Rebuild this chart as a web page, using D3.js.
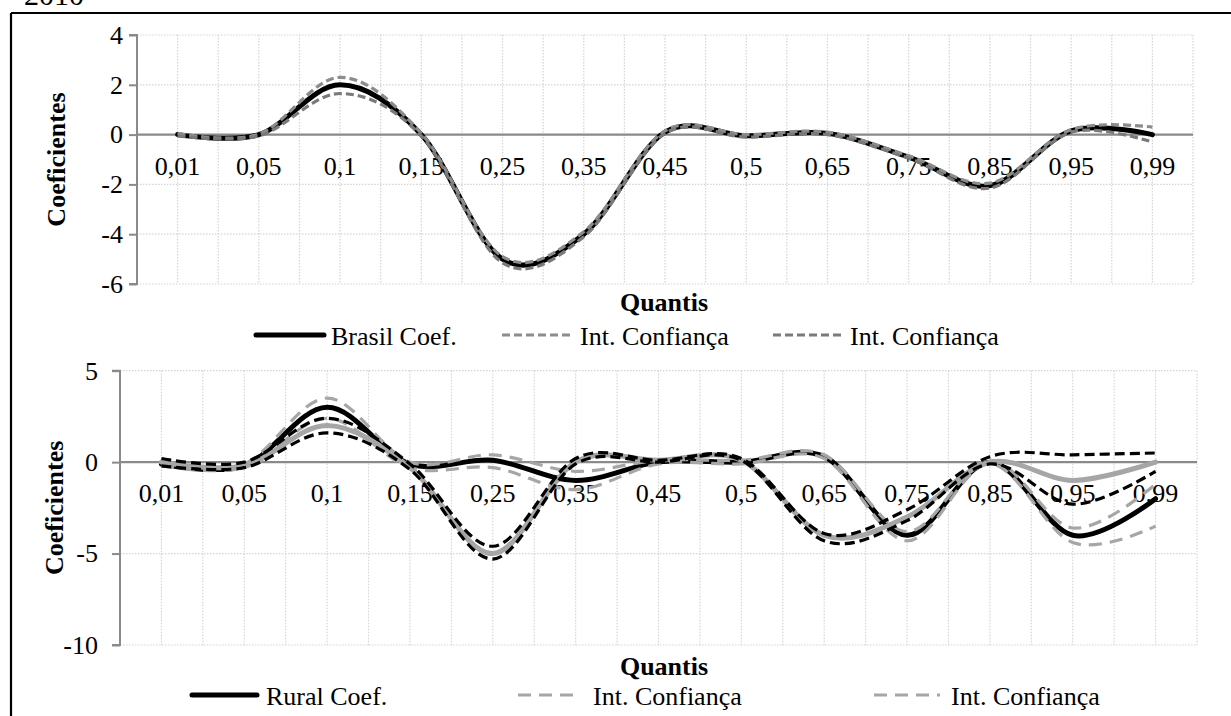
<!DOCTYPE html>
<html>
<head>
<meta charset="utf-8">
<script src="https://cdn.jsdelivr.net/npm/d3@7/dist/d3.min.js"></script>
<style>
  html, body { margin: 0; padding: 0; background: #fff; }
  svg { display: block; font-family: "Liberation Serif", "Times New Roman", serif; }
</style>
</head>
<body>
<svg id="chart" width="1231" height="716"></svg>
<script>
// Quantile labels shared by both panels
const quantis = ["0,01","0,05","0,1","0,15","0,25","0,35","0,45","0,5","0,65","0,75","0,85","0,95","0,99"];

// Brasil: coefficient and confidence bounds
const brasilCoef  = [0.00, 0.00, 2.00, 0.00, -5.00, -4.00, 0.10, -0.05, 0.05, -0.90, -2.05, 0.15, 0.00];
const brasilIcSup = [0.05, 0.02, 2.30, 0.05, -4.90, -3.90, 0.15,  0.00, 0.10, -0.85, -1.95, 0.20, 0.30];
const brasilIcInf = [-0.05,-0.05,1.65,-0.05, -5.15, -4.10, 0.05, -0.10, 0.00, -0.95, -2.15, 0.10, -0.30];

// Rural: coefficient and confidence bounds
const ruralCoef  = [-0.10, -0.20, 3.00, -0.10, 0.10, -1.00, 0.00, 0.00, 0.30, -4.00, 0.00, -4.00, -2.00];
const ruralIcSup = [0.00, -0.10, 3.50, 0.00, 0.40, -0.50, 0.10, 0.10, 0.40, -3.80, 0.10, -3.60, -1.20];
const ruralIcInf = [-0.20, -0.30, 2.40, -0.30, -0.30, -1.50, -0.10, -0.10, 0.20, -4.30, -0.10, -4.40, -3.50];

// Urbano: coefficient and confidence bounds
const urbanoCoef  = [0.00, -0.20, 2.00, -0.30, -5.00, 0.00, 0.10, 0.10, -4.00, -3.00, 0.00, -1.00, 0.00];
const urbanoIcSup = [0.20, 0.00, 2.40, -0.10, -4.60, 0.20, 0.10, 0.20, -3.90, -2.60, 0.30, 0.40, 0.50];
const urbanoIcInf = [-0.20, -0.30, 1.60, -0.40, -5.30, -0.10, 0.00, 0.10, -4.30, -3.20, -0.10, -2.30, -0.50];

// Axis tick values
const topTicks = [4, 2, 0, -2, -4, -6];
const bottomTicks = [5, 0, -5, -10];

const FONT = 26;
const svg = d3.select("#chart");

// Outer frame (top and left rules) and the year heading above it
svg.append("line").attr("x1", 11).attr("x2", 1231).attr("y1", 13).attr("y2", 13)
  .attr("stroke", "#000").attr("stroke-width", 2);
svg.append("line").attr("x1", 11).attr("x2", 11).attr("y1", 13).attr("y2", 716)
  .attr("stroke", "#000").attr("stroke-width", 2.2);
svg.append("text").attr("x", 24).attr("y", 5).attr("font-size", 30).text("2010");

function panel(cfg) {
  const x = d3.scaleBand().domain(quantis).range([cfg.left, cfg.right]);
  const y = d3.scaleLinear().domain(cfg.domain).range([cfg.bottom, cfg.top]);
  const g = svg.append("g");
  const half = x.bandwidth() / 2;

  // dotted vertical gridlines at band edges and band centres
  const vx = [];
  quantis.forEach(q => { vx.push(x(q)); vx.push(x(q) + half); });
  vx.push(cfg.right);
  g.selectAll(".vg").data(vx.slice(1)).join("line")
    .attr("x1", d => d).attr("x2", d => d)
    .attr("y1", y(cfg.domain[1])).attr("y2", y(cfg.domain[0]))
    .attr("stroke", "#d4d4d4").attr("stroke-width", 1.2).attr("stroke-dasharray", "1.5,1.5");
  // dotted horizontal gridlines
  g.selectAll(".hg").data(cfg.ticks).join("line")
    .attr("x1", cfg.left).attr("x2", cfg.right)
    .attr("y1", d => y(d)).attr("y2", d => y(d))
    .attr("stroke", "#d4d4d4").attr("stroke-width", 1.2).attr("stroke-dasharray", "1.5,1.5");

  // vertical axis with outside ticks
  const ya = d3.axisLeft(y).tickValues(cfg.ticks).tickSize(8).tickPadding(cfg.tickPad)
    .tickFormat(d => d3.format("d")(d).replace("−", "-"));
  const yg = g.append("g").attr("transform", `translate(${cfg.left},0)`).call(ya)
    .attr("font-family", null).attr("font-size", null);
  yg.select(".domain").attr("stroke", "#8a8a8a").attr("stroke-width", 2)
    .attr("d", `M-8,${y(cfg.domain[1])}H0V${y(cfg.domain[0])}H-8`);
  yg.selectAll(".tick line").attr("stroke", "#8a8a8a").attr("stroke-width", 2);
  yg.selectAll(".tick text").attr("font-size", FONT).attr("fill", "#000");

  // horizontal axis line at zero
  g.append("line").attr("x1", cfg.left).attr("x2", cfg.right)
    .attr("y1", y(0)).attr("y2", y(0))
    .attr("stroke", "#8a8a8a").attr("stroke-width", 2.2);

  // category labels below the zero line
  g.selectAll(".xl").data(quantis).join("text")
    .attr("x", d => x(d) + half).attr("y", y(0) + 40)
    .attr("text-anchor", "middle").attr("font-size", FONT).text(d => d);

  // series lines
  const line = d3.line()
    .x((d, i) => x(quantis[i]) + half)
    .y(d => y(d))
    .curve(d3.curveCatmullRom.alpha(0));
  cfg.series.forEach(s => {
    g.append("path").datum(s.values).attr("d", line)
      .attr("fill", "none").attr("stroke", s.color).attr("stroke-width", s.width)
      .attr("stroke-dasharray", s.dash || null)
      .attr("stroke-linecap", s.dash ? "butt" : "round")
      .attr("stroke-linejoin", "round");
  });

  // axis titles
  g.append("text").attr("transform", `translate(${cfg.ytitleX},${(y(cfg.domain[0]) + y(cfg.domain[1])) / 2}) rotate(-90)`)
    .attr("text-anchor", "middle").attr("font-weight", "bold").attr("font-size", FONT).text("Coeficientes");
  g.append("text").attr("x", cfg.xtitleX).attr("y", cfg.xtitleY)
    .attr("text-anchor", "middle").attr("font-weight", "bold").attr("font-size", FONT).text("Quantis");

  // legend
  cfg.legend.forEach(l => {
    g.append("line").attr("x1", l.x1).attr("x2", l.x2).attr("y1", cfg.legendY - 10).attr("y2", cfg.legendY - 10)
      .attr("stroke", l.color).attr("stroke-width", l.width)
      .attr("stroke-dasharray", l.dash || null)
      .attr("stroke-linecap", l.dash ? "butt" : "round");
    g.append("text").attr("x", l.tx).attr("y", cfg.legendY).attr("font-size", FONT).text(l.label);
  });
}

panel({
  left: 137, right: 1193, top: 35, bottom: 284, domain: [-6, 4], ticks: topTicks, tickPad: 6,
  ytitleX: 65, xtitleX: 664, xtitleY: 311, legendY: 345,
  series: [
    { values: brasilCoef, color: "#000", width: 5 },
    { values: brasilIcSup, color: "#8c8c8c", width: 3.2, dash: "8,4" },
    { values: brasilIcInf, color: "#7a7a7a", width: 3.2, dash: "8,4" }
  ],
  legend: [
    { x1: 256, x2: 324, tx: 331, color: "#000", width: 5, label: "Brasil Coef." },
    { x1: 502, x2: 570, tx: 580, color: "#8c8c8c", width: 3.2, dash: "8,4", label: "Int. Confiança" },
    { x1: 773, x2: 841, tx: 850, color: "#7a7a7a", width: 3.2, dash: "8,4", label: "Int. Confiança" }
  ]
});

panel({
  left: 120, right: 1197, top: 370.7, bottom: 645, domain: [-10, 5], ticks: bottomTicks, tickPad: 14,
  ytitleX: 63, xtitleX: 664, xtitleY: 675, legendY: 705,
  series: [
    { values: ruralCoef, color: "#000", width: 5 },
    { values: ruralIcSup, color: "#a6a6a6", width: 3.2, dash: "13,8" },
    { values: ruralIcInf, color: "#a6a6a6", width: 3.2, dash: "13,8" },
    { values: urbanoCoef, color: "#a6a6a6", width: 5 },
    { values: urbanoIcSup, color: "#000", width: 3.2, dash: "10,5" },
    { values: urbanoIcInf, color: "#000", width: 3.2, dash: "10,5" }
  ],
  legend: [
    { x1: 192, x2: 257, tx: 266, color: "#000", width: 5, label: "Rural Coef." },
    { x1: 518, x2: 573, tx: 593, color: "#a6a6a6", width: 3.2, dash: "13,8", label: "Int. Confiança" },
    { x1: 874, x2: 940, tx: 951, color: "#a6a6a6", width: 3.2, dash: "13,8", label: "Int. Confiança" }
  ]
});
</script>
</body>
</html>
